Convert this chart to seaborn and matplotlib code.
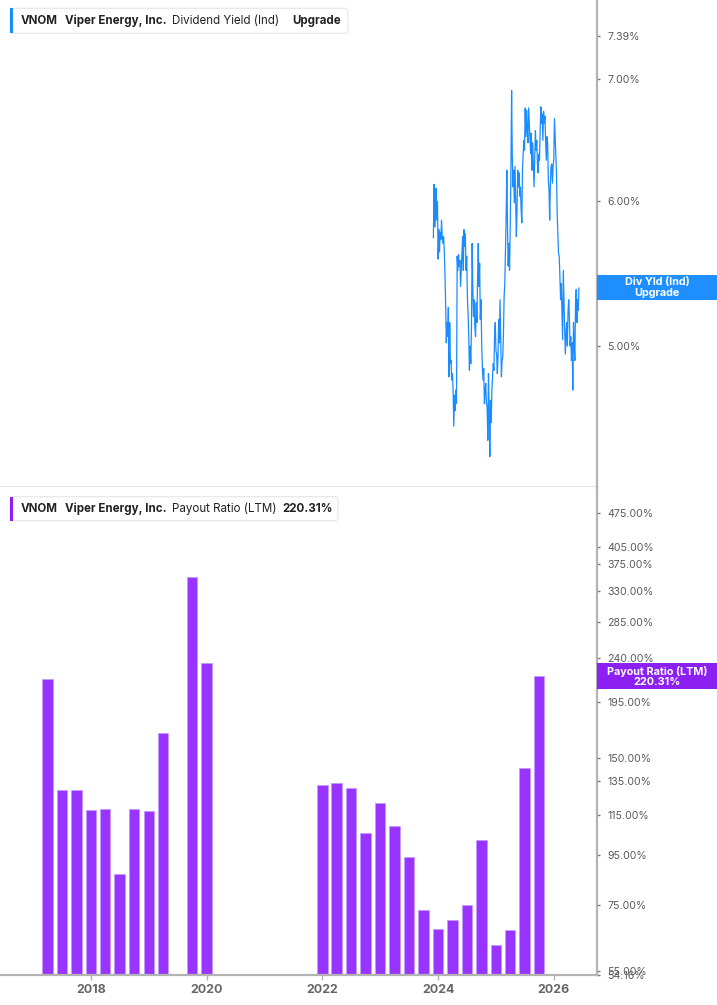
import matplotlib
matplotlib.use("Agg")
import matplotlib.dates as mdates
import matplotlib.pyplot as plt
import matplotlib.ticker as mticker
from matplotlib.patches import FancyBboxPatch, Rectangle
import pandas as pd
import seaborn as sns

W, H = 717, 1005

# Dividend yield (Ind), %
YIELD_START = "2023-12-02"
YIELD_END = "2026-06-08"
YIELD_VALUES = [
    5.73, 6.13, 5.81, 5.94, 6.10, 5.86, 6.00, 5.58, 5.79, 5.63, 5.77, 5.72, 5.86, 5.74, 5.69, 5.74, 5.64, 5.48, 5.28, 5.02,
    5.15, 5.06, 5.25, 4.81, 5.15, 4.89, 4.91, 4.79, 4.83, 4.73, 4.52, 4.70, 4.61, 4.73, 4.65, 5.60, 5.50, 5.61, 5.53, 5.57,
    5.39, 5.50, 5.62, 5.74, 5.50, 5.79, 5.67, 5.76, 5.50, 5.60, 5.32, 5.21, 5.06, 4.85, 5.00, 4.89, 5.12, 5.69, 5.37, 5.19,
    5.30, 5.12, 5.06, 5.28, 5.15, 5.46, 5.69, 5.39, 5.55, 5.17, 5.30, 5.02, 4.87, 4.79, 4.86, 4.65, 4.73, 4.77, 4.65, 4.63,
    4.44, 4.83, 4.61, 4.35, 4.67, 4.54, 4.73, 4.81, 4.89, 4.85, 5.08, 5.15, 4.97, 4.95, 4.83, 4.93, 5.17, 5.02, 5.30, 5.06,
    4.81, 4.91, 4.93, 5.08, 5.32, 5.41, 5.64, 5.89, 6.24, 5.79, 5.53, 5.69, 5.50, 5.81, 6.24, 6.90, 6.35, 6.11, 6.24, 5.99,
    6.27, 6.01, 5.74, 5.94, 6.24, 6.11, 6.22, 6.04, 6.11, 5.94, 5.84, 6.24, 6.37, 6.48, 6.40, 6.75, 6.51, 6.73, 6.56, 6.46,
    6.75, 6.62, 6.51, 6.37, 6.54, 6.24, 6.46, 6.29, 6.11, 6.32, 6.56, 6.40, 6.48, 6.29, 6.22, 6.37, 6.32, 6.56, 6.76, 6.62,
    6.70, 6.48, 6.72, 6.62, 6.68, 6.48, 6.32, 6.51, 6.46, 6.16, 6.09, 5.86, 6.14, 6.27, 6.29, 6.14, 6.27, 6.32, 6.66, 6.51,
    6.37, 6.22, 5.91, 5.76, 5.62, 5.60, 5.46, 5.30, 5.41, 5.23, 5.04, 5.50, 5.28, 5.10, 4.95, 5.08, 5.15, 5.00, 5.23, 5.30,
    5.17, 5.00, 5.06, 4.91, 5.02, 4.73, 5.15, 5.00, 4.91, 5.28, 5.37, 5.15, 5.30, 5.23, 5.38,
]

# Payout ratio (LTM), %, quarterly
PAYOUT_DATES = [
    "2017-03-31", "2017-06-30", "2017-09-30", "2017-12-31",
    "2018-03-31", "2018-06-30", "2018-09-30", "2018-12-31",
    "2019-03-31", "2019-09-30", "2019-12-31",
    "2021-12-31",
    "2022-03-31", "2022-06-30", "2022-09-30", "2022-12-31",
    "2023-03-31", "2023-06-30", "2023-09-30", "2023-12-31",
    "2024-03-31", "2024-06-30", "2024-09-30", "2024-12-31",
    "2025-03-31", "2025-06-30", "2025-09-30",
]
PAYOUT_VALUES = [
    217.6, 129.2, 129.2, 117.5,
    118.2, 87.0, 118.0, 116.7,
    168.8, 351.6, 234.6,
    132.3,
    133.7, 130.3, 105.4, 121.6,
    108.8, 94.2, 73.5, 67.1,
    70.1, 75.0, 102.2, 62.3,
    66.8, 143.3, 220.31,
]

YIELD_TICKS = [5.00, 6.00, 7.00, 7.39]
PAYOUT_TICKS = [54.16, 55, 75, 95, 115, 135, 150, 195, 240, 285, 330, 375, 405, 475]
YEAR_TICKS = [2018, 2020, 2022, 2024, 2026]

BLUE = "#1a8cff"
PURPLE = "#9933ff"
PURPLE_TAG = "#8c1ff2"
SPINE = "#b3b3b3"
LABEL = "#5a5a5a"


def fx(x):
    return x / W


def fy(y):
    return 1 - y / H


def style_right_axis(ax, ticks):
    ax.set_yticks(ticks, labels=[f"{v:.2f}%" for v in ticks])
    ax.yaxis.set_minor_locator(mticker.NullLocator())
    ax.yaxis.tick_right()
    ax.tick_params(axis="y", which="major", right=True, left=False,
                   labelright=True, labelleft=False, length=2.5, width=1,
                   color="#777777", pad=5, labelsize=7.6, labelcolor=LABEL)
    for side in ("left", "top"):
        ax.spines[side].set_visible(False)
    ax.spines["right"].set_color(SPINE)
    ax.spines["right"].set_linewidth(1.6)
    ax.set_xlabel("")
    ax.set_ylabel("")


def header(fig, y0, y1, x1, bar_color, parts):
    fig.patches.append(FancyBboxPatch(
        (fx(10), fy(y1)), fx(x1) - fx(10), fy(y0) - fy(y1),
        boxstyle="round,pad=0,rounding_size=0.004", transform=fig.transFigure,
        facecolor="white", edgecolor="#e6e6e6", linewidth=0.8, zorder=5,
    ))
    fig.patches.append(Rectangle(
        (fx(10), fy(y1)), fx(13) - fx(10), fy(y0) - fy(y1),
        transform=fig.transFigure, facecolor=bar_color, edgecolor="none", zorder=6,
    ))
    yc = (y0 + y1) / 2
    for x, text, weight in parts:
        fig.text(fx(x), fy(yc), text, ha="left", va="center", fontsize=8.3,
                 fontweight=weight, color="#222222", zorder=7)


def value_tag(fig, y0, y1, color, text):
    fig.patches.append(Rectangle(
        (fx(597), fy(y1)), fx(717) - fx(597), fy(y0) - fy(y1),
        transform=fig.transFigure, facecolor=color, edgecolor="none", zorder=5,
    ))
    fig.text(fx(657), fy((y0 + y1) / 2), text, ha="center", va="center",
             fontsize=7.8, fontweight="bold", color="white", linespacing=1.0,
             zorder=6)


def main():
    sns.set_theme(style="white")
    plt.rcParams["font.family"] = ["Inter", "DejaVu Sans"]

    fig = plt.figure(figsize=(W / 100, H / 100), dpi=100)
    ax_top = fig.add_axes([0, fy(487), fx(597), 487 / H])
    ax_bot = fig.add_axes([0, fy(974.5), fx(597), (974.5 - 487) / H])

    xmin = mdates.date2num(pd.Timestamp("2016-06-05"))
    xmax = mdates.date2num(pd.Timestamp("2026-09-30"))

    # upper panel: dividend yield line
    yield_df = pd.DataFrame({
        "date": pd.date_range(YIELD_START, YIELD_END, periods=len(YIELD_VALUES)),
        "yield": YIELD_VALUES,
    })
    ax_top.set_yscale("log")
    sns.lineplot(data=yield_df, x="date", y="yield", color=BLUE,
                 linewidth=0.9, ax=ax_top)
    ax_top.set_xlim(xmin, xmax)
    ax_top.set_ylim(4.186, 7.734)
    style_right_axis(ax_top, YIELD_TICKS)
    ax_top.tick_params(axis="x", bottom=False, labelbottom=False)
    ax_top.spines["bottom"].set_color("#e2e2e2")
    ax_top.spines["bottom"].set_linewidth(1.2)

    # lower panel: payout ratio bars
    payout_df = pd.DataFrame({
        "date": mdates.date2num(pd.to_datetime(PAYOUT_DATES)),
        "ratio": PAYOUT_VALUES,
    })
    ax_bot.set_yscale("log")
    sns.barplot(data=payout_df, x="date", y="ratio", native_scale=True,
                width=0.73, color=PURPLE, saturation=1, errorbar=None,
                edgecolor="#c49bff", linewidth=0.6, ax=ax_bot)
    ax_bot.set_xlim(xmin, xmax)
    ax_bot.set_ylim(54.16, 537.6)
    style_right_axis(ax_bot, PAYOUT_TICKS)
    year_pos = [mdates.date2num(pd.Timestamp(f"{y}-01-01")) for y in YEAR_TICKS]
    ax_bot.set_xticks(year_pos, labels=[str(y) for y in YEAR_TICKS],
                      fontweight="bold")
    ax_bot.tick_params(axis="x", bottom=True, length=3.5, width=1,
                       color=SPINE, pad=3, labelsize=9, labelcolor="#666666")
    ax_bot.spines["bottom"].set_color(SPINE)
    ax_bot.spines["bottom"].set_linewidth(1.6)

    header(fig, 8.3, 33.3, 348, BLUE, [
        (20.7, "VNOM", "bold"),
        (65, "Viper Energy, Inc.", "bold"),
        (171.7, "Dividend Yield (Ind)", "normal"),
        (292.7, "Upgrade", "bold"),
    ])
    header(fig, 496.7, 520.7, 338, PURPLE_TAG, [
        (20.7, "VNOM", "bold"),
        (65, "Viper Energy, Inc.", "bold"),
        (171.7, "Payout Ratio (LTM)", "normal"),
        (282.7, f"{PAYOUT_VALUES[-1]:.2f}%", "bold"),
    ])

    value_tag(fig, 275, 300, "#1f8fff", "Div Yld (Ind)\nUpgrade")
    value_tag(fig, 663, 689, PURPLE_TAG, f"Payout Ratio (LTM)\n{PAYOUT_VALUES[-1]:.2f}%")

    fig.savefig("out.png", dpi=100)
    plt.close(fig)


if __name__ == "__main__":
    main()
